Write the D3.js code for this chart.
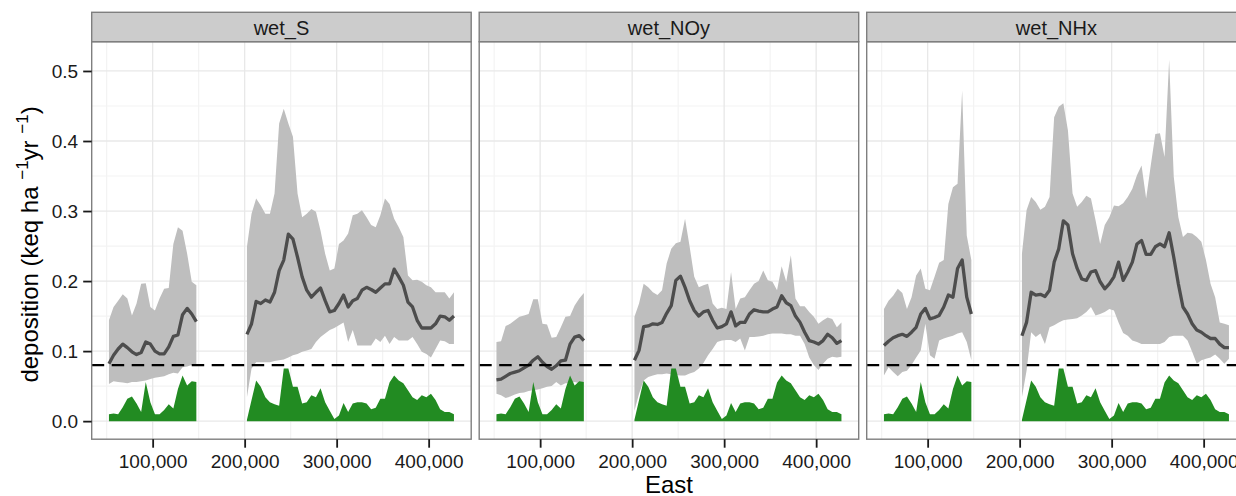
<!DOCTYPE html>
<html><head><meta charset="utf-8">
<script src="https://cdn.jsdelivr.net/npm/d3@7"></script>
<style>
body{margin:0;background:#fff}
svg{display:block}
text{font-family:"Liberation Sans",Arial,Helvetica,sans-serif}
</style>
</head><body>
<svg id="chart" width="1236" height="496"></svg>
<script>
// ---------- data ----------
const east = [52500,57500,62500,67500,72500,77500,82500,87500,92500,97500,
  102500,107500,112500,117500,122500,127500,132500,137500,142500,147500,
  202500,207500,212500,217500,222500,227500,232500,237500,242500,247500,
  252500,257500,262500,267500,272500,277500,282500,287500,292500,297500,
  302500,307500,312500,317500,322500,327500,332500,337500,342500,347500,
  352500,357500,362500,367500,372500,377500,382500,387500,392500,397500,
  402500,407500,412500,417500,422500,427500];

const facets = ["wet_S", "wet_NOy", "wet_NHx"];

const sMean = [0.082,0.094,0.103,0.110,0.105,0.099,0.095,0.098,0.113,0.110,0.100,0.096,0.096,0.106,0.121,0.123,0.152,0.161,0.153,0.142,
  0.124,0.139,0.171,0.168,0.173,0.170,0.184,0.215,0.230,0.267,0.260,0.234,0.206,0.187,0.177,0.184,0.190,0.172,0.156,0.158,
  0.168,0.180,0.163,0.172,0.175,0.187,0.191,0.188,0.184,0.190,0.196,0.196,0.217,0.206,0.194,0.170,0.163,0.144,0.133,0.133,
  0.133,0.139,0.150,0.149,0.144,0.150];
const sHigh = [0.144,0.163,0.172,0.181,0.175,0.151,0.168,0.196,0.197,0.163,0.158,0.175,0.189,0.190,0.253,0.277,0.272,0.239,0.199,0.194,
  0.249,0.296,0.318,0.308,0.296,0.296,0.325,0.425,0.446,0.425,0.406,0.325,0.291,0.296,0.303,0.299,0.272,0.239,0.215,0.218,
  0.253,0.258,0.268,0.294,0.296,0.301,0.291,0.280,0.277,0.294,0.318,0.310,0.289,0.277,0.263,0.208,0.201,0.202,0.199,0.194,
  0.191,0.184,0.184,0.184,0.175,0.184];
const sLow = [0.053,0.057,0.056,0.055,0.054,0.056,0.056,0.057,0.058,0.060,0.062,0.063,0.064,0.067,0.069,0.068,0.077,0.078,0.080,0.081,
  0.034,0.075,0.084,0.084,0.084,0.084,0.086,0.087,0.088,0.091,0.094,0.096,0.099,0.101,0.103,0.113,0.120,0.125,0.130,0.133,
  0.137,0.141,0.113,0.130,0.108,0.108,0.108,0.108,0.118,0.113,0.122,0.110,0.120,0.115,0.115,0.115,0.120,0.110,0.099,0.096,
  0.091,0.103,0.115,0.114,0.110,0.110];

const noyMean = [0.059,0.060,0.064,0.068,0.070,0.072,0.076,0.080,0.087,0.092,0.084,0.078,0.074,0.079,0.086,0.087,0.110,0.120,0.122,0.115,
  0.087,0.101,0.135,0.136,0.139,0.138,0.141,0.154,0.165,0.201,0.207,0.191,0.172,0.158,0.150,0.156,0.158,0.144,0.133,0.135,
  0.139,0.156,0.136,0.141,0.141,0.153,0.159,0.157,0.156,0.156,0.160,0.163,0.179,0.169,0.165,0.150,0.141,0.127,0.115,0.113,
  0.110,0.115,0.124,0.119,0.111,0.115];
const noyHigh = [0.113,0.114,0.136,0.139,0.144,0.149,0.151,0.153,0.174,0.174,0.139,0.138,0.119,0.120,0.134,0.149,0.150,0.165,0.175,0.183,
  0.149,0.168,0.196,0.191,0.184,0.180,0.187,0.225,0.246,0.254,0.256,0.289,0.249,0.206,0.191,0.194,0.196,0.168,0.160,0.162,
  0.160,0.213,0.160,0.175,0.177,0.187,0.196,0.200,0.215,0.201,0.199,0.187,0.221,0.199,0.237,0.175,0.164,0.164,0.156,0.149,
  0.139,0.144,0.148,0.146,0.134,0.141];
const noyLow = [0.039,0.037,0.033,0.035,0.038,0.040,0.041,0.043,0.044,0.045,0.047,0.049,0.050,0.056,0.051,0.054,0.054,0.056,0.054,0.056,
  0.015,0.039,0.058,0.063,0.065,0.067,0.067,0.068,0.067,0.066,0.065,0.065,0.068,0.070,0.075,0.083,0.094,0.103,0.113,0.115,
  0.116,0.116,0.113,0.118,0.101,0.120,0.120,0.121,0.122,0.124,0.125,0.125,0.125,0.124,0.124,0.122,0.122,0.110,0.091,0.080,
  0.073,0.082,0.089,0.092,0.091,0.092];

const nhxMean = [0.108,0.114,0.119,0.122,0.124,0.121,0.127,0.134,0.153,0.161,0.146,0.148,0.151,0.163,0.180,0.177,0.218,0.230,0.177,0.153,
  0.122,0.141,0.184,0.180,0.181,0.178,0.187,0.227,0.246,0.286,0.280,0.239,0.218,0.203,0.201,0.213,0.215,0.199,0.189,0.196,
  0.206,0.227,0.201,0.213,0.227,0.253,0.258,0.238,0.238,0.249,0.253,0.249,0.269,0.234,0.196,0.163,0.153,0.139,0.130,0.127,
  0.122,0.118,0.118,0.110,0.105,0.105];
const nhxHigh = [0.160,0.172,0.179,0.189,0.183,0.160,0.177,0.208,0.218,0.189,0.187,0.206,0.226,0.230,0.310,0.334,0.339,0.472,0.265,0.230,
  0.239,0.301,0.320,0.313,0.302,0.306,0.320,0.434,0.449,0.454,0.415,0.325,0.306,0.313,0.322,0.318,0.287,0.253,0.280,0.291,
  0.308,0.307,0.311,0.320,0.332,0.351,0.365,0.318,0.365,0.410,0.411,0.377,0.516,0.349,0.291,0.263,0.269,0.268,0.263,0.256,
  0.230,0.196,0.177,0.141,0.139,0.137];
const nhxLow = [0.065,0.077,0.070,0.064,0.070,0.072,0.080,0.091,0.101,0.139,0.094,0.089,0.115,0.118,0.120,0.122,0.125,0.127,0.113,0.087,
  0.034,0.072,0.127,0.120,0.125,0.110,0.134,0.137,0.141,0.144,0.145,0.146,0.147,0.151,0.156,0.163,0.151,0.153,0.156,0.160,
  0.158,0.141,0.126,0.122,0.115,0.113,0.110,0.110,0.110,0.110,0.110,0.113,0.120,0.122,0.122,0.122,0.115,0.099,0.082,0.087,
  0.089,0.091,0.095,0.089,0.082,0.089];

// green area shown identically in every panel
const greenArea = [0.010,0.011,0.010,0.020,0.032,0.035,0.025,0.013,0.056,0.027,0.010,0.010,0.016,0.024,0.018,0.046,0.065,0.051,0.057,0.056,
  0.002,0.030,0.058,0.049,0.034,0.027,0.024,0.022,0.075,0.075,0.049,0.049,0.025,0.027,0.037,0.034,0.047,0.027,0.015,0.003,
  0.008,0.026,0.013,0.025,0.027,0.027,0.025,0.017,0.019,0.032,0.032,0.055,0.065,0.058,0.054,0.044,0.034,0.030,0.037,0.034,
  0.039,0.030,0.017,0.013,0.013,0.010];

const thresholdValue = 0.08;
const xTicks = [100000, 200000, 300000, 400000];
const xMinor = [50000, 150000, 250000, 350000, 450000];
const yTicks = [0, 0.1, 0.2, 0.3, 0.4, 0.5];
const yMinor = [0.05, 0.15, 0.25, 0.35, 0.45];

const seriesByFacet = {
  wet_S:   {mean: sMean,   lo: sLow,   hi: sHigh},
  wet_NOy: {mean: noyMean, lo: noyLow, hi: noyHigh},
  wet_NHx: {mean: nhxMean, lo: nhxLow, hi: nhxHigh}
};

// ---------- layout ----------
const svg = d3.select("#chart");
const panelLeft = 91.7, panelW = 379.5, panelGap = 8;
const panelTop = 41.7, panelBottom = 439.2, stripTop = 12.3;
const FONT = '"Liberation Sans",Arial,Helvetica,sans-serif';

const ex = d3.extent(east), exPad = (ex[1] - ex[0]) * 0.05;
const x = d3.scaleLinear().domain([ex[0] - exPad, ex[1] + exPad]).range([0, panelW]);

const allVals = [].concat(sHigh, noyHigh, nhxHigh, greenArea, [0]);
const ey = d3.extent(allVals), eyPad = (ey[1] - ey[0]) * 0.05;
const y = d3.scaleLinear().domain([ey[0] - eyPad, ey[1] + eyPad]).range([panelBottom, panelTop]);

function rows(f) {
  const s = seriesByFacet[f];
  const out = [];
  east.forEach((e, i) => {
    if (i > 0 && e - east[i - 1] > 10000) out.push(null);
    out.push({e, mean: s.mean[i], lo: s.lo[i], hi: s.hi[i], g: greenArea[i]});
  });
  return out;
}

const ribbon = d3.area().defined(d => d !== null)
  .x(d => x(d.e)).y0(d => y(d.lo)).y1(d => y(d.hi));
const green = d3.area().defined(d => d !== null)
  .x(d => x(d.e)).y0(() => y(0)).y1(d => y(d.g));
const meanLine = d3.line().defined(d => d !== null)
  .x(d => x(d.e)).y(d => y(d.mean));

facets.forEach((f, k) => {
  const px = panelLeft + k * (panelW + panelGap);
  const g = svg.append("g").attr("transform", `translate(${px},0)`);
  const data = rows(f);

  g.append("rect").attr("x", 0).attr("y", panelTop).attr("width", panelW)
    .attr("height", panelBottom - panelTop).attr("fill", "#fff");

  // minor grid
  g.selectAll(".vmin").data(xMinor.filter(v => v > x.domain()[0] && v < x.domain()[1]))
    .enter().append("line")
    .attr("x1", d => x(d)).attr("x2", d => x(d)).attr("y1", panelTop).attr("y2", panelBottom)
    .attr("stroke", "#f3f3f3").attr("stroke-width", 1.2);
  g.selectAll(".hmin").data(yMinor).enter().append("line")
    .attr("x1", 0).attr("x2", panelW).attr("y1", d => y(d)).attr("y2", d => y(d))
    .attr("stroke", "#f3f3f3").attr("stroke-width", 1.2);
  // major grid
  g.selectAll(".vmaj").data(xTicks).enter().append("line")
    .attr("x1", d => x(d)).attr("x2", d => x(d)).attr("y1", panelTop).attr("y2", panelBottom)
    .attr("stroke", "#e8e8e8").attr("stroke-width", 1.3);
  g.selectAll(".hmaj").data(yTicks).enter().append("line")
    .attr("x1", 0).attr("x2", panelW).attr("y1", d => y(d)).attr("y2", d => y(d))
    .attr("stroke", "#e8e8e8").attr("stroke-width", 1.3);

  g.append("path").attr("d", ribbon(data)).attr("fill", "#bebebe");
  g.append("path").attr("d", green(data)).attr("fill", "#228b22");
  g.append("path").attr("d", meanLine(data)).attr("fill", "none")
    .attr("stroke", "#4d4d4d").attr("stroke-width", 3.3)
    .attr("stroke-linejoin", "round");

  g.append("line").attr("x1", 0).attr("x2", panelW)
    .attr("y1", y(thresholdValue)).attr("y2", y(thresholdValue))
    .attr("stroke", "#000").attr("stroke-width", 2.2)
    .attr("stroke-dasharray", "12.5,7.5");

  // panel border
  g.append("rect").attr("x", 0).attr("y", panelTop).attr("width", panelW)
    .attr("height", panelBottom - panelTop).attr("fill", "none")
    .attr("stroke", "#7f7f7f").attr("stroke-width", 1.4);

  // strip
  g.append("rect").attr("x", 0).attr("y", stripTop).attr("width", panelW)
    .attr("height", panelTop - stripTop).attr("fill", "#cccccc")
    .attr("stroke", "#7f7f7f").attr("stroke-width", 1.4);
  g.append("text").attr("x", panelW / 2).attr("y", 34.6)
    .attr("text-anchor", "middle").attr("font-size", 20).attr("fill", "#1a1a1a")
    .attr("font-family", FONT).text(f);

  // x axis
  const xa = g.append("g").attr("transform", `translate(0,${panelBottom})`)
    .call(d3.axisBottom(x).tickValues(xTicks).tickFormat(d3.format(",")).tickSize(8.5).tickPadding(7));
  xa.select(".domain").remove();
  xa.selectAll(".tick line").attr("stroke", "#1a1a1a").attr("stroke-width", 1.8);
  xa.selectAll(".tick text").attr("font-size", 19).attr("font-family", FONT).attr("fill", "#1a1a1a");

  if (k === 0) {
    const ya = g.append("g")
      .call(d3.axisLeft(y).tickValues(yTicks).tickFormat(d3.format(".1f")).tickSize(8.5).tickPadding(5));
    ya.select(".domain").remove();
    ya.selectAll(".tick line").attr("stroke", "#1a1a1a").attr("stroke-width", 1.8);
    ya.selectAll(".tick text").attr("font-size", 19).attr("font-family", FONT).attr("fill", "#1a1a1a");
  }
});

// axis titles
const totalMid = panelLeft + (3 * panelW + 2 * panelGap) / 2;
svg.append("text").attr("x", totalMid).attr("y", 493)
  .attr("text-anchor", "middle").attr("font-size", 24).attr("font-family", FONT)
  .text("East");

const yt = svg.append("text")
  .attr("transform", `translate(38,${(panelTop + panelBottom) / 2 + 4}) rotate(-90)`)
  .attr("text-anchor", "middle").attr("font-size", 24).attr("font-family", FONT);
yt.append("tspan").text("deposition (keq ha ");
yt.append("tspan").attr("dy", -10).attr("font-size", 17).text("\u22121");
yt.append("tspan").attr("dy", 10).text("yr ");
yt.append("tspan").attr("dy", -10).attr("font-size", 17).text("\u22121");
yt.append("tspan").attr("dy", 10).text(")");
</script>
</body></html>
